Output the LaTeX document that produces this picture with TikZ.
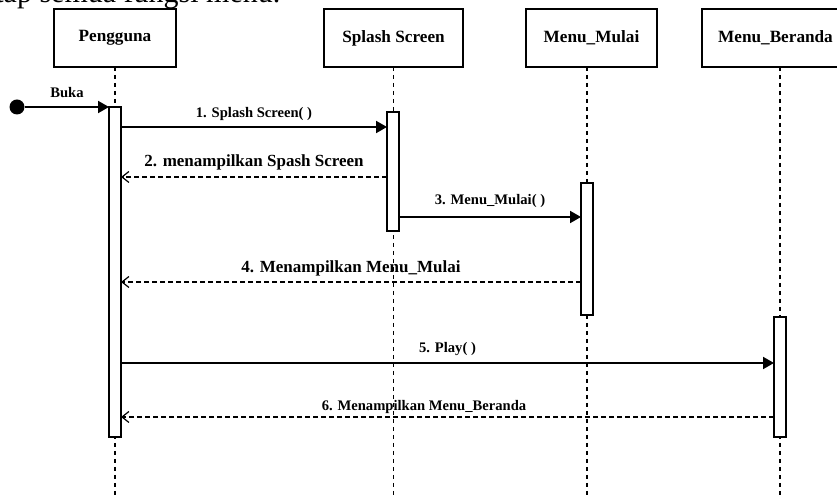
\documentclass[tikz,border=0pt]{standalone}
\usepackage{fontspec}
\setmainfont{Liberation Serif}
\usetikzlibrary{arrows.meta,positioning,calc}

\begin{document}
\begin{tikzpicture}[x=0.5pt,y=-0.5pt,
  head/.style={draw, line width=0.6pt, rectangle, minimum height=29pt, inner sep=0pt, outer sep=0pt, font=\fontsize{8.6}{10}\selectfont\bfseries},
  bar/.style={draw, line width=0.6pt, fill=white, rectangle, minimum width=6pt, inner sep=0pt, outer sep=0pt},
  life/.style={line width=0.6pt, dash pattern=on 2pt off 2pt},
  call/.style={-{Triangle[length=5.5pt,width=6pt]}, line width=1pt},
  reply/.style={-{Straight Barb[length=3.5pt,width=5.5pt]}, line width=0.6pt, dash pattern=on 2.5pt off 1.5pt},
  lbl/.style={anchor=base, inner sep=0pt, font=\fontsize{7.3}{9}\selectfont\bfseries},
  lblbig/.style={lbl, font=\fontsize{8.5}{10}\selectfont\bfseries}]
  \useasboundingbox (0,0) rectangle (837,496);

  \node[anchor=base west, inner sep=0pt, font=\fontsize{15}{17}\selectfont] (intro) at (-5,3) {tap semua fungsi menu.};

  % lifeline heads
  \node[head, minimum width=61pt] (user) at (115,38) {Pengguna};
  \node[head, minimum width=69.5pt] (splash) at (393.5,38) {Splash Screen};
  \node[head, minimum width=65.5pt] (mulai) at (591.5,38) {Menu\_Mulai};
  \node[head, minimum width=73.5pt] (beranda) at (775.5,38) {Menu\_Beranda};

  % dashed lifelines
  \coordinate (bottom) at (0,496);
  \draw[life] (user.south) -- (user.south |- bottom);
  \draw[life] (splash.south) -- (splash.south |- bottom);
  \draw[life] ([xshift=-2.25pt]mulai.south) -- ([xshift=-2.25pt]mulai.south |- bottom);
  \draw[life] ([xshift=2.25pt]beranda.south) -- ([xshift=2.25pt]beranda.south |- bottom);

  % activation bars
  \node[bar, minimum height=165pt] (ubar) at (115,272) {};
  \node[bar, minimum height=59.5pt] (sbar) at (393,171.5) {};
  \node[bar, minimum height=66pt] (mbar) at (587,249) {};
  \node[bar, minimum height=60pt] (bbar) at (780,377) {};

  % messages
  \coordinate (r1) at (0,127);
  \coordinate (r2) at (0,177);
  \coordinate (r3) at (0,217);
  \coordinate (r4) at (0,282);
  \coordinate (r5) at (0,363);
  \coordinate (r6) at (0,417);

  \node[circle, fill, inner sep=0pt, minimum size=7.5pt] (start) at (17,107) {};
  \draw[call] (start) -- node[lbl, yshift=4.5pt] {Buka} (ubar.north west);

  \draw[call] (ubar.east |- r1) -- node[lbl, yshift=4.5pt] {1. Splash Screen( )} (sbar.west |- r1);
  \draw[reply] (sbar.west |- r2) -- node[lblbig, yshift=5.2pt] {2. menampilkan Spash Screen} (ubar.east |- r2);
  \draw[call] (sbar.east |- r3) -- node[lbl, yshift=6pt] {3. Menu\_Mulai( )} (mbar.west |- r3);
  \draw[reply] (mbar.west |- r4) -- node[lblbig, yshift=4.7pt] {4. Menampilkan Menu\_Mulai} (ubar.east |- r4);
  \draw[call] (ubar.east |- r5) -- node[lbl, yshift=5pt] {5. Play( )} (bbar.west |- r5);
  \draw[reply] (bbar.west |- r6) -- node[lbl, pos=0.536, yshift=3pt] {6. Menampilkan Menu\_Beranda} (ubar.east |- r6);
\end{tikzpicture}
\end{document}
